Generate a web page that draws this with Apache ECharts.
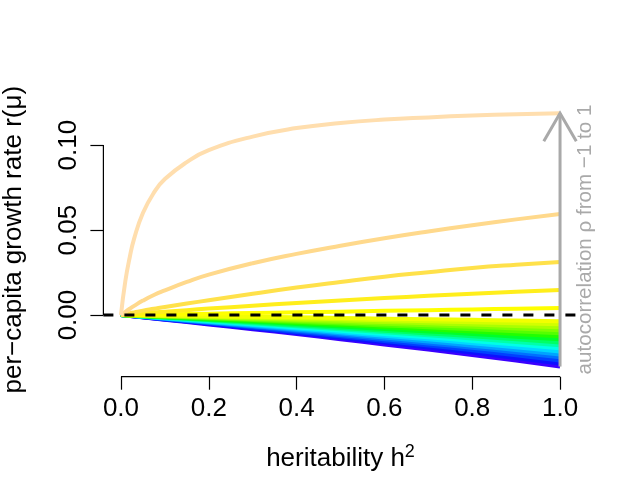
<!DOCTYPE html>
<html>
<head>
<meta charset="utf-8">
<script src="https://cdn.jsdelivr.net/npm/echarts@6/dist/echarts.min.js"></script>
<style>html,body{margin:0;padding:0;background:#fff;}#c{width:630px;height:504px;}</style>
</head>
<body>
<div id="c"></div>
<script>
// heritability grids (x values)
const hFine = [0, 0.01, 0.02, 0.03, 0.05, 0.075, 0.1, 0.15, 0.2, 0.3, 0.4, 0.5, 0.6, 0.7, 0.8, 0.9, 1.0];
const hGrid = [0, 0.1, 0.2, 0.3, 0.4, 0.5, 0.6, 0.7, 0.8, 0.9, 1.0];

// autocorrelation values, one curve each
const rhoValues = [-1, -0.9, -0.8, -0.7, -0.6, -0.5, -0.4, -0.3, -0.2, -0.1, 0, 0.1, 0.2, 0.3, 0.4, 0.5, 0.6, 0.7, 0.8, 0.9, 1];

// growth rate r(mu) (positive rho on hFine)
const rP10 = [0, 0.020, 0.034, 0.045, 0.060, 0.072, 0.080, 0.090, 0.097, 0.105, 0.110, 0.1130, 0.1150, 0.1163, 0.1174, 0.1182, 0.1188];
const rP09 = [0, 0.0019, 0.0037, 0.0054, 0.0085, 0.0118, 0.0145, 0.0195, 0.0238, 0.0305, 0.0360, 0.0408, 0.0452, 0.0492, 0.0529, 0.0563, 0.0594];
const rP08 = [0, 0.0006, 0.0011, 0.0016, 0.0026, 0.0037, 0.0048, 0.0068, 0.0087, 0.0125, 0.0162, 0.0195, 0.0226, 0.0252, 0.0277, 0.0296, 0.0312];
const rP07 = [0, 0.0002, 0.0004, 0.0007, 0.0011, 0.0016, 0.0020, 0.0029, 0.0038, 0.0055, 0.0071, 0.0086, 0.0100, 0.0113, 0.0125, 0.0137, 0.0147];
const rP06 = [0, 0.00005, 0.0001, 0.00013, 0.0002, 0.0003, 0.0004, 0.0006, 0.0008, 0.0012, 0.0016, 0.0020, 0.0025, 0.0029, 0.0033, 0.0037, 0.0041];
// rho <= 0.5 on hGrid
const rP05 = [0, -0.0003, -0.0006, -0.0010, -0.0013, -0.0017, -0.0021, -0.0024, -0.0028, -0.0032, -0.0036];
const rP04 = [0, -0.0005, -0.0010, -0.0015, -0.0020, -0.0025, -0.0031, -0.0036, -0.0042, -0.0048, -0.0054];
const rP03 = [0, -0.0006, -0.0013, -0.0020, -0.0027, -0.0034, -0.0041, -0.0048, -0.0056, -0.0064, -0.0072];
const rP02 = [0, -0.0008, -0.0016, -0.0024, -0.0033, -0.0042, -0.0051, -0.0060, -0.0069, -0.0079, -0.0089];
const rP01 = [0, -0.0010, -0.0019, -0.0029, -0.0040, -0.0050, -0.0061, -0.0072, -0.0083, -0.0095, -0.0107];
const rZ00 = [0, -0.0011, -0.0023, -0.0034, -0.0046, -0.0059, -0.0071, -0.0084, -0.0097, -0.0111, -0.0125];
const rM01 = [0, -0.0013, -0.0026, -0.0039, -0.0053, -0.0067, -0.0082, -0.0096, -0.0111, -0.0127, -0.0143];
const rM02 = [0, -0.0014, -0.0029, -0.0044, -0.0060, -0.0076, -0.0092, -0.0108, -0.0125, -0.0142, -0.0161];
const rM03 = [0, -0.0016, -0.0032, -0.0049, -0.0066, -0.0084, -0.0101, -0.0119, -0.0138, -0.0158, -0.0178];
const rM04 = [0, -0.0018, -0.0035, -0.0054, -0.0073, -0.0092, -0.0112, -0.0131, -0.0152, -0.0173, -0.0196];
const rM05 = [0, -0.0019, -0.0039, -0.0059, -0.0079, -0.0101, -0.0122, -0.0143, -0.0166, -0.0189, -0.0214];
const rM06 = [0, -0.0021, -0.0042, -0.0064, -0.0086, -0.0109, -0.0132, -0.0155, -0.0180, -0.0205, -0.0232];
const rM07 = [0, -0.0022, -0.0045, -0.0068, -0.0092, -0.0117, -0.0142, -0.0167, -0.0193, -0.0220, -0.0249];
const rM08 = [0, -0.0024, -0.0048, -0.0073, -0.0099, -0.0125, -0.0152, -0.0179, -0.0207, -0.0236, -0.0267];
const rM09 = [0, -0.0026, -0.0051, -0.0078, -0.0105, -0.0134, -0.0162, -0.0191, -0.0221, -0.0252, -0.0285];
const rM10 = [0, -0.0027, -0.0055, -0.0083, -0.0112, -0.0142, -0.0173, -0.0203, -0.0235, -0.0268, -0.0303];

// tick labels
const xTicks = [0, 0.2, 0.4, 0.6, 0.8, 1.0];
const yTicks = [0, 0.05, 0.10];

// text
const xTitle = 'heritability h';
const xTitleSup = '2';
const yTitle = 'per\u2212capita growth rate r(\u03bc)';
const arrowText = 'autocorrelation \u03c1 from \u22121 to 1';

// styles
const lineColors = ['#3a00ff', '#0d10ff', '#0040ff', '#0070ff', '#00a4ff', '#00d8ff', '#00ffe8', '#00ffaa', '#00ff66', '#00ff2a', '#22ff00', '#55ff00', '#80ff00', '#aaff00', '#d2ff00', '#f2ff00', '#ffff00', '#ffee1c', '#ffe14a', '#ffd98c', '#ffdeae'];

const curveValues = [rM10, rM09, rM08, rM07, rM06, rM05, rM04, rM03, rM02, rM01, rZ00, rP01, rP02, rP03, rP04, rP05, rP06, rP07, rP08, rP09, rP10];

const allVals = curveValues.flat();
const dMin = Math.min.apply(null, allVals), dMax = Math.max.apply(null, allVals);
const yPad = (dMax - dMin) * 0.04;
const yLo = dMin - yPad, yHi = dMax + yPad;
const xLo = -0.04, xHi = 1.04;

const FONT = 'Liberation Sans, Arial, Helvetica, sans-serif';

const series = curveValues.map((vals, i) => {
  const hs = vals.length === hFine.length ? hFine : hGrid;
  return {
    type: 'line',
    name: 'rho ' + rhoValues[i],
    data: vals.map((v, k) => [hs[k], v]),
    showSymbol: false,
    symbol: 'none',
    smooth: 0.5,
    clip: false,
    silent: true,
    lineStyle: { color: lineColors[i], width: 4, cap: 'butt', join: 'round' },
    z: 2
  };
});

// zero reference line (dashed) across plot region
series.push({
  type: 'line', data: [[xLo, 0], [xHi, 0]], showSymbol: false, symbol: 'none', silent: true, clip: false,
  lineStyle: { color: '#000', width: 3, type: [10, 11] }, z: 5
});
// axis lines (R style, span only first..last tick)
series.push({
  type: 'line', data: [[xTicks[0], yLo], [xTicks[xTicks.length - 1], yLo]], showSymbol: false, symbol: 'none', silent: true, clip: false,
  lineStyle: { color: '#000', width: 1.2 }, z: 6
});
series.push({
  type: 'line', data: [[xLo, yTicks[0]], [xLo, yTicks[yTicks.length - 1]]], showSymbol: false, symbol: 'none', silent: true, clip: false,
  lineStyle: { color: '#000', width: 1.2 }, z: 6
});
// arrow at h2 = 1 from min to max
series.push({
  type: 'custom',
  silent: true,
  clip: false,
  z: 8,
  data: [[1, dMin, dMax]],
  encode: { x: 0, y: [1, 2] },
  renderItem: function (params, api) {
    const p0 = api.coord([api.value(0), api.value(1)]);
    const p1 = api.coord([api.value(0), api.value(2)]);
    const L = 32.5, ang = Math.PI / 6;
    const dx = L * Math.sin(ang), dy = L * Math.cos(ang);
    const st = { stroke: '#a9a9a9', lineWidth: 3, fill: null, lineCap: 'butt' };
    return {
      type: 'group',
      children: [
        { type: 'line', shape: { x1: p0[0], y1: p0[1], x2: p1[0], y2: p1[1] }, style: st },
        { type: 'polyline', shape: { points: [[p1[0] - dx, p1[1] + dy], [p1[0], p1[1]], [p1[0] + dx, p1[1] + dy]] }, style: st }
      ]
    };
  }
});

const chart = echarts.init(document.getElementById('c'), null, { renderer: 'canvas' });
chart.setOption({
  animation: false,
  backgroundColor: '#ffffff',
  textStyle: { fontFamily: FONT },
  grid: { left: 103.4, right: 52.4, top: 103, bottom: 127.3, containLabel: false },
  xAxis: {
    type: 'value', min: xLo, max: xHi,
    axisLine: { show: false, onZero: false },
    splitLine: { show: false },
    axisTick: { show: true, length: 13, lineStyle: { color: '#000', width: 1.2 }, customValues: xTicks },
    axisLabel: { show: true, customValues: xTicks, margin: 19, color: '#000', fontSize: 26, fontFamily: FONT,
      formatter: v => v.toFixed(1) }
  },
  yAxis: {
    type: 'value', min: yLo, max: yHi,
    axisLine: { show: false, onZero: false },
    splitLine: { show: false },
    axisTick: { show: true, length: 13, lineStyle: { color: '#000', width: 1.2 }, customValues: yTicks },
    axisLabel: { show: true, customValues: yTicks, margin: 35, rotate: 90, align: 'center', verticalAlign: 'middle',
      color: '#000', fontSize: 26, fontFamily: FONT,
      formatter: v => v.toFixed(2) }
  },
  graphic: [
    {
      type: 'text', x: 340.5, y: 459,
      style: {
        text: '{a|' + xTitle + '}{s|' + xTitleSup + '}',
        fontFamily: FONT, fill: '#000', align: 'center', verticalAlign: 'middle',
        rich: {
          a: { fontSize: 26, fontFamily: FONT, lineHeight: 32 },
          s: { fontSize: 18, fontFamily: FONT, verticalAlign: 'top' }
        }
      }
    },
    {
      type: 'text', x: 13.5, y: 239.7, rotation: Math.PI / 2,
      style: { text: yTitle, fontSize: 26, fontFamily: FONT, fill: '#000', align: 'center', verticalAlign: 'middle' }
    },
    {
      type: 'text', x: 585, y: 239.5, rotation: Math.PI / 2,
      style: { text: arrowText, fontSize: 20.6, fontFamily: FONT, fill: '#a9a9a9', align: 'center', verticalAlign: 'middle' }
    }
  ],
  series: series
});
</script>
</body>
</html>
